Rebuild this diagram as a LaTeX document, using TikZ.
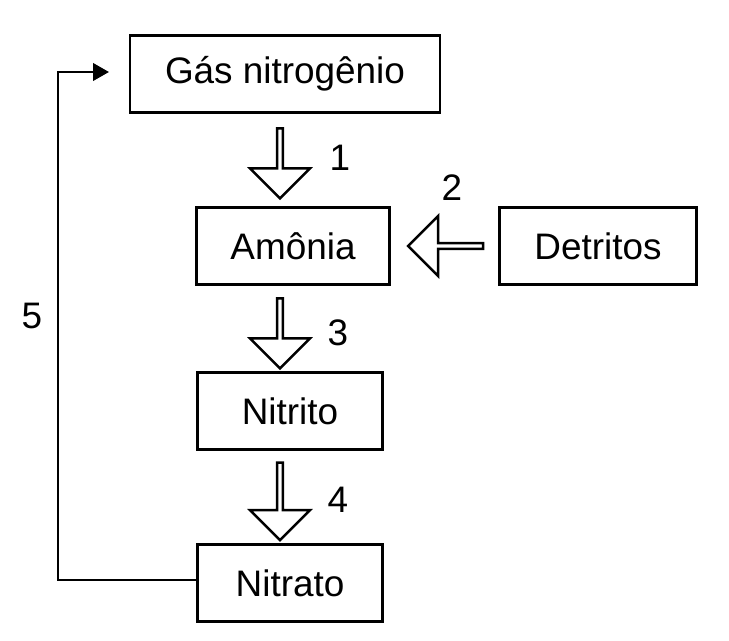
\documentclass[tikz,border=0pt]{standalone}
\usepackage{fontspec}
\setmainfont{Liberation Sans}
\usetikzlibrary{shapes.arrows,arrows.meta}
\tikzset{
  box/.style={
    draw,
    line width=1.6pt,
    inner sep=0mm,
    outer sep=0mm,
    minimum height=1.55cm,
    font=\fontsize{21}{25}\selectfont
  },
  flow/.style={
    single arrow,
    draw,
    line width=1.4pt,
    minimum height=1.4cm,
    minimum width=1.2cm,
    single arrow head extend=0.24cm,
    inner sep=0mm
  },
  lbl/.style={font=\fontsize{21}{25}\selectfont}
}

\begin{document}
\begin{tikzpicture}[x=0.02cm,y=-0.02cm]
    \useasboundingbox (0,0) rectangle (729,641);
    \node[box,minimum width=6.2cm] (gas) at (285,74) {Gás nitrogênio};
    \node[box,minimum width=3.85cm] (amonia) at (293,246) {Amônia};
    \node[box,minimum width=3.95cm] (detritos) at (598,246) {Detritos};
    \node[box,minimum width=3.7cm] (nitrito) at (290,411) {Nitrito};
    \node[box,minimum width=3.7cm] (nitrato) at (290,583) {Nitrato};
    % block arrows
    \node[flow,rotate=-90] (f1) at (280,162) {};
    \node[flow,rotate=180,minimum height=1.5cm] (f2) at (447,246) {};
    \node[flow,rotate=-90] (f3) at (280,332) {};
    \node[flow,rotate=-90,minimum height=1.55cm] (f4) at (280,500) {};
    \node[lbl] (n1) at (340,158) {1};
    \node[lbl] (n2) at (452,188) {2};
    \node[lbl] (n3) at (338,333) {3};
    \node[lbl] (n4) at (338,500) {4};
    \node[lbl] (n5) at (32,316) {5};
    % return line
    \coordinate (c1) at (58,580);
    \coordinate (c2) at (58,72);
    \draw[line width=1pt,-{Triangle[length=9pt,width=10pt]}] (nitrato.west |- c1) -- (c1) -- (c2) -- ([xshift=-12pt]gas.west |- c2);
\end{tikzpicture}
\end{document}
